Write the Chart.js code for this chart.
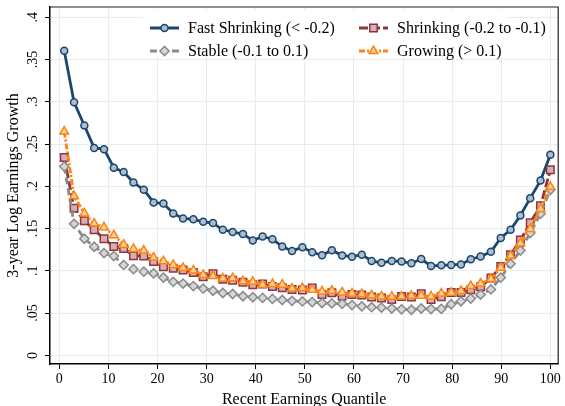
<!DOCTYPE html>
<html>
<head>
<meta charset="utf-8">
<script src="https://cdn.jsdelivr.net/npm/chart.js@4/dist/chart.umd.min.js"></script>
<style>
  body { margin: 0; background: #fff; }
  #wrap { width: 565px; height: 406px; }
</style>
</head>
<body>
<div id="wrap"><canvas id="quantiles" width="565" height="406"></canvas></div>
<script>
// quantile positions (50 bins)
const quantiles = [1, 3, 5.1, 7.1, 9.1, 11.1, 13.1, 15.1, 17.2, 19.2, 21.2, 23.2, 25.2, 27.3, 29.3,
    31.3, 33.3, 35.3, 37.4, 39.4, 41.4, 43.4, 45.4, 47.4, 49.5, 51.5, 53.5, 55.5, 57.6, 59.6,
    61.6, 63.6, 65.6, 67.7, 69.7, 71.7, 73.7, 75.7, 77.8, 79.8, 81.8, 83.8, 85.8, 87.9, 89.9,
    91.9, 93.9, 95.9, 98, 100];

const fastShrinking = [.3605, .2995, .272, .2455, .244, .222, .217, .2045, .196, .181,
    .1797, .168, .162, .161, .158, .1565, .1486, .146, .1435, .136,
    .1407, .1375, .1287, .1236, .128, .122, .1185, .1245, .1181, .1168,
    .1192, .1117, .1095, .1118, .1112, .109, .114, .1058, .1066, .107,
    .1076, .1138, .117, .1226, .139, .1486, .1655, .186, .2068, .2374];

const shrinking = [.234, .1742, .1592, .1486, .138, .1288, .1265, .118, .1175, .111,
    .1048, .103, .101, .098, .093, .0966, .09, .089, .0865, .0836,
    .0844, .0816, .08, .078, .0775, .0797, .072, .074, .07, .072,
    .0715, .069, .0678, .066, .0697, .069, .0728, .066, .0695, .0745,
    .0744, .0777, .0812, .0915, .1052, .119, .1364, .1568, .177, .2195];

const stable = [.2234, .1557, .138, .1285, .121, .1175, .107, .102, .099, .097,
    .092, .087, .085, .082, .079, .0765, .0738, .0726, .07, .0688,
    .068, .0668, .0655, .0645, .0638, .063, .062, .0615, .061, .0595,
    .058, .057, .0565, .0555, .0545, .054, .0555, .0548, .055, .0605,
    .064, .0672, .072, .078, .092, .1084, .124, .1448, .1675, .196];

const growing = [.2648, .1885, .168, .156, .1515, .142, .131, .126, .124, .1157,
    .1115, .107, .1035, .1005, .0952, .0938, .091, .0914, .0877, .0871,
    .0837, .0845, .0836, .079, .0797, .0777, .0757, .0765, .0745, .0733,
    .0726, .0709, .0697, .0695, .0697, .0705, .0707, .0697, .0732, .0742,
    .0763, .082, .085, .0903, .1036, .1178, .1328, .1496, .1732, .1995];

const seriesNames = ['Fast Shrinking (< -0.2)', 'Shrinking (-0.2 to -0.1)', 'Stable (-0.1 to 0.1)', 'Growing (> 0.1)'];
const xTicks = [0, 10, 20, 30, 40, 50, 60, 70, 80, 90, 100];
const yTicks = [0, .05, .1, .15, .2, .25, .3, .35, .4];

const serif = "'Liberation Serif', 'Times New Roman', serif";

function points(values) {
    return values.map((v, i) => ({ x: quantiles[i], y: v }));
}

function yLabel(v) {
    return v === 0 ? '0' : String(v).replace(/^0/, '');
}

// legend inside the plot, two columns like the original
const legendBox = {
    id: 'legendBox',
    afterDraw(chart) {
        const ctx = chart.ctx;
        const spots = [[150, 28], [359, 28], [150, 51], [359, 51]];
        ctx.save();
        ctx.fillStyle = '#fff';
        ctx.fillRect(143, 10, 364, 47);
        chart.data.datasets.forEach((ds, i) => {
            const [x, y] = spots[i];
            ctx.strokeStyle = ds.borderColor;
            ctx.lineWidth = 3;
            ctx.setLineDash(ds.borderDash || []);
            ctx.beginPath();
            ctx.moveTo(x, y);
            ctx.lineTo(x + 29, y);
            ctx.stroke();
            ctx.setLineDash([]);
            ctx.fillStyle = ds.pointBackgroundColor;
            ctx.strokeStyle = ds.pointBorderColor;
            ctx.lineWidth = ds.pointBorderWidth;
            Chart.helpers.drawPoint(ctx, {
                pointStyle: ds.pointStyle, radius: ds.pointRadius,
                borderWidth: ds.pointBorderWidth, rotation: 0
            }, x + 14.5, y);
            ctx.fillStyle = '#000';
            ctx.font = '16px ' + serif;
            ctx.textAlign = 'left';
            ctx.textBaseline = 'middle';
            ctx.fillText(ds.label, x + 38, y + 1);
        });
        ctx.restore();
    }
};

// rotated y tick labels and the frame on top / right
const frameAndLabels = {
    id: 'frameAndLabels',
    afterDraw(chart) {
        const ctx = chart.ctx;
        const area = chart.chartArea;
        const yScale = chart.scales.y;
        ctx.save();
        ctx.strokeStyle = '#222';
        ctx.lineWidth = 1.2;
        ctx.beginPath();
        ctx.moveTo(area.left, area.top);
        ctx.lineTo(area.right, area.top);
        ctx.lineTo(area.right, area.bottom);
        ctx.stroke();

        ctx.fillStyle = '#000';
        ctx.font = '14px ' + serif;
        ctx.textAlign = 'center';
        ctx.textBaseline = 'middle';
        yTicks.forEach(v => {
            const y = yScale.getPixelForValue(v);
            ctx.save();
            ctx.translate(33, y);
            ctx.rotate(-Math.PI / 2);
            ctx.fillText(yLabel(v), 0, 0);
            ctx.restore();
        });
        ctx.restore();
    }
};

const ctx = document.getElementById('quantiles');

new Chart(ctx, {
    type: 'line',
    data: {
        datasets: [{
            label: seriesNames[0],
            data: points(fastShrinking),
            borderColor: '#1a476f',
            borderWidth: 2.8,
            pointStyle: 'circle',
            pointRadius: 3.5,
            pointBorderWidth: 1.5,
            pointBackgroundColor: '#aebccb',
            pointBorderColor: '#1a476f',
            order: 4
        }, {
            label: seriesNames[1],
            data: points(shrinking),
            borderColor: '#90353b',
            borderWidth: 2.8,
            borderDash: [9, 3],
            pointStyle: 'rect',
            pointRadius: 5.3,
            pointBorderWidth: 1.5,
            pointBackgroundColor: '#d3b0b3',
            pointBorderColor: '#90353b',
            order: 3
        }, {
            label: seriesNames[2],
            data: points(stable),
            borderColor: '#8a8a8a',
            borderWidth: 2.8,
            borderDash: [7, 4],
            pointStyle: 'rectRot',
            pointRadius: 4.6,
            pointBorderWidth: 1.5,
            pointBackgroundColor: '#d6d6d6',
            pointBorderColor: '#8a8a8a',
            order: 2
        }, {
            label: seriesNames[3],
            data: points(growing),
            borderColor: '#ff8214',
            borderWidth: 2.8,
            borderDash: [6, 2, 2, 2],
            pointStyle: 'triangle',
            pointRadius: 5,
            pointBorderWidth: 1.5,
            pointBackgroundColor: '#ffd39e',
            pointBorderColor: '#ff8214',
            order: 1
        }]
    },
    options: {
        responsive: false,
        animation: false,
        layout: {
            padding: { top: 7, right: 5, left: 0, bottom: 0 }
        },
        plugins: {
            legend: { display: false },
            tooltip: { enabled: false }
        },
        scales: {
            x: {
                type: 'linear',
                min: -1.9,
                max: 101.6,
                afterBuildTicks: s => { s.ticks = xTicks.map(v => ({ value: v })); },
                afterFit: s => { s.height = 42; },
                grid: { color: '#e4eef1', lineWidth: 1, tickColor: '#000', tickLength: 5 },
                border: { color: '#000', width: 1.5 },
                ticks: {
                    color: '#000',
                    font: { family: serif, size: 14 },
                    padding: 2,
                    maxRotation: 0,
                    autoSkip: false
                },
                title: {
                    display: true,
                    text: 'Recent Earnings Quantile',
                    color: '#000',
                    font: { family: serif, size: 16 },
                    padding: { top: 0, bottom: -3 }
                }
            },
            y: {
                type: 'linear',
                min: -0.0102,
                max: 0.4122,
                afterBuildTicks: s => { s.ticks = yTicks.map(v => ({ value: v })); },
                afterFit: s => { s.width = 50; },
                grid: { color: '#e4eef1', lineWidth: 1, tickColor: '#000', tickLength: 5 },
                border: { color: '#000', width: 1.5 },
                ticks: { display: false },
                title: {
                    display: true,
                    text: '3-year Log Earnings Growth',
                    color: '#000',
                    font: { family: serif, size: 16 },
                    padding: { top: 4, bottom: 0 }
                }
            }
        }
    },
    plugins: [legendBox, frameAndLabels]
});
</script>
</body>
</html>
